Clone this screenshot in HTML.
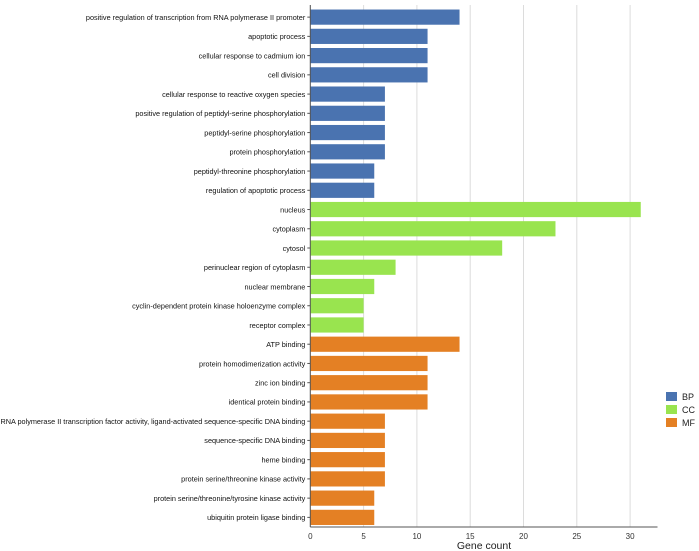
<!DOCTYPE html>
<html><head><meta charset="utf-8"><style>
body{margin:0;background:#fff;font-family:"Liberation Sans",Arial,sans-serif;}
svg{display:block}
</style></head><body>
<svg id="c" width="699" height="551"></svg>
<script>
const terms=["positive regulation of transcription from RNA polymerase II promoter","apoptotic process","cellular response to cadmium ion","cell division","cellular response to reactive oxygen species","positive regulation of peptidyl-serine phosphorylation","peptidyl-serine phosphorylation","protein phosphorylation","peptidyl-threonine phosphorylation","regulation of apoptotic process","nucleus","cytoplasm","cytosol","perinuclear region of cytoplasm","nuclear membrane","cyclin-dependent protein kinase holoenzyme complex","receptor complex","ATP binding","protein homodimerization activity","zinc ion binding","identical protein binding","RNA polymerase II transcription factor activity, ligand-activated sequence-specific DNA binding","sequence-specific DNA binding","heme binding","protein serine/threonine kinase activity","protein serine/threonine/tyrosine kinase activity","ubiquitin protein ligase binding"];
const counts=[14,11,11,11,7,7,7,7,6,6,31,23,18,8,6,5,5,14,11,11,11,7,7,7,7,6,6];
const cats=["BP","BP","BP","BP","BP","BP","BP","BP","BP","BP","CC","CC","CC","CC","CC","CC","CC","MF","MF","MF","MF","MF","MF","MF","MF","MF","MF"];
const ticks=[0,5,10,15,20,25,30];
const legendCats=["BP","CC","MF"];
const colors={BP:"#4a73b0",CC:"#99e44f",MF:"#e48024"};
const svg=document.getElementById('c');const NS="http://www.w3.org/2000/svg";
function mk(t,a,p){const e=document.createElementNS(NS,t);for(const k in a)e.setAttribute(k,a[k]);(p||svg).appendChild(e);return e;}
const x0=310.3,x1=657.5,y0=7.5,y1=527,ppu=10.66;
const xs=v=>x0+v*ppu;const band=(y1-y0)/terms.length;const yc=i=>y0+band*(i+0.5);
ticks.forEach(t=>{
 const g=mk('line',{x1:xs(t),x2:xs(t),y1:5,y2:y1,stroke:'#dcdcdc','stroke-width':1});
 
 
 const tx=mk('text',{x:xs(t),y:539,'font-size':8,'text-anchor':'middle',fill:'#333'});tx.textContent=t;
 
 
});
terms.forEach((n,i)=>{
 const r=mk('rect',{x:x0,y:yc(i)-7.6,width:xs(counts[i])-x0,height:15.2,fill:colors[cats[i]]});
 
 
 mk('line',{x1:x0-3,x2:x0,y1:yc(i),y2:yc(i),stroke:'#555'});
 const t=mk('text',{x:x0-5,y:yc(i)+2.8,'font-size':7.3,'text-anchor':'end',fill:'#111'});t.textContent=n;
 
 
});
const ax=mk('line',{x1:x0,x2:x1,y1:y1,y2:y1,stroke:'#555'});


const ay=mk('line',{x1:x0,x2:x0,y1:5,y2:y1,stroke:'#555'});


const xt=mk('text',{x:484,y:549,'font-size':10.5,'text-anchor':'middle',fill:'#222'});xt.textContent='Gene count';


legendCats.forEach((c,i)=>{
 const r=mk('rect',{x:666,y:392+i*13,width:11,height:9,fill:colors[c]});
 
 
 const t=mk('text',{x:682,y:400+i*13,'font-size':9,fill:'#222'});t.textContent=c;
 
 
});
</script>
</body></html>
